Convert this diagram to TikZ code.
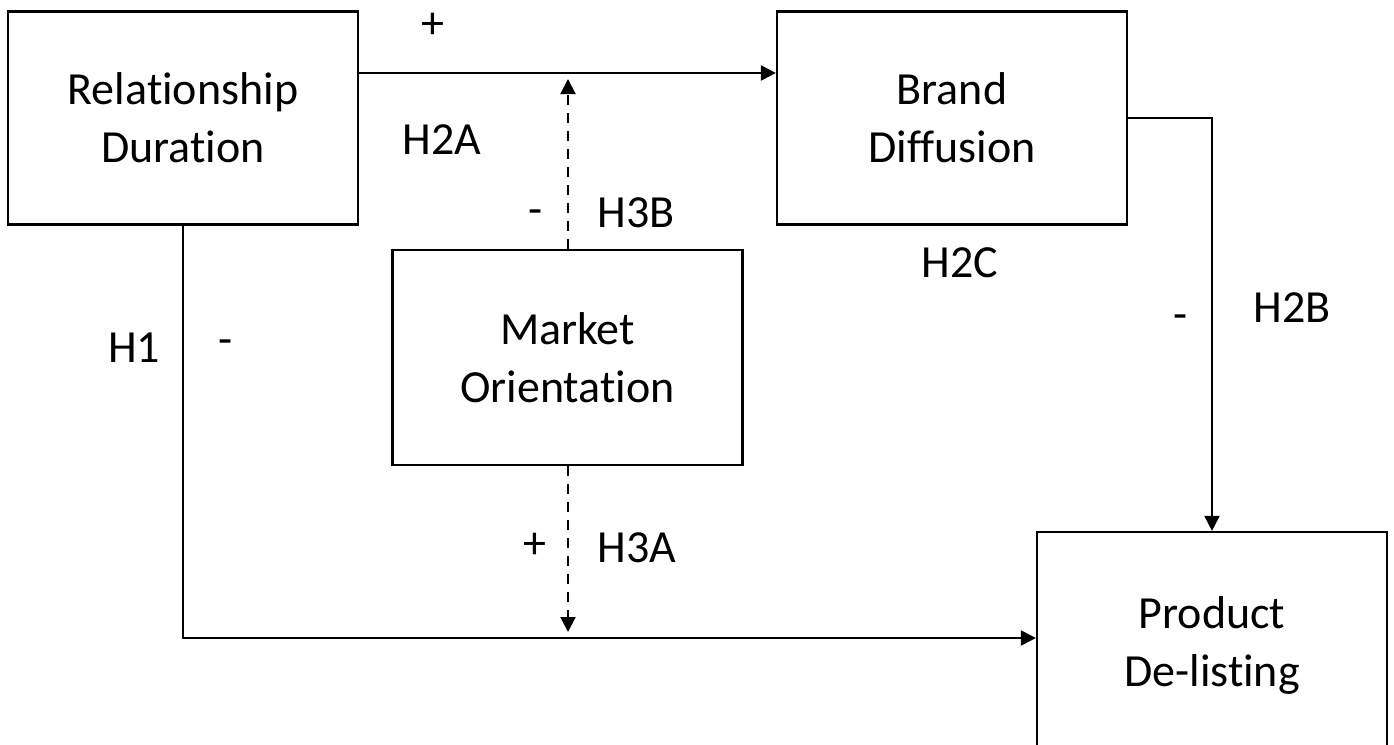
\documentclass[tikz,border=0pt]{standalone}
\usepackage{fontspec}
\setmainfont{Carlito}[Ligatures={NoCommon}]
\usetikzlibrary{arrows.meta}
\newcommand\nti{t\kern0pt i}
\begin{document}
\begin{tikzpicture}[x=1pt,y=-1pt,
  box/.style={draw,line width=2.2pt,minimum width=350pt,minimum height=213pt,align=center,inner sep=0pt,font=\fontsize{46}{58}\selectfont},
  lbl/.style={inner sep=0pt,font=\fontsize{46}{58}\selectfont},
  conn/.style={line width=2pt,-{Triangle[length=15pt,width=15pt]}},
  dconn/.style={conn,dash pattern=on 10pt off 8pt}]
\useasboundingbox (0,0) rectangle (1394,744);
\clip (0,0) rectangle (1394,744);
\node[box] (RD) at (183,118) {Rela\nti onship\\Dura\nti on};
\node[box] (BD) at (952,118) {Brand\\Diffusion};
\node[box,minimum height=215pt] (MO) at (567.5,357.5) {Market\\Orienta\nti on};
\node[box,minimum height=220pt,text depth=0pt] (PD) at (1212,642) {Product\\De-lis\nti ng};
\coordinate (t1) at (568,79);
\coordinate (t2) at (568,632);
\draw[conn] (RD.east |- 0,73) -- (BD.west |- 0,73);
\draw[conn] (RD.south) |- (PD.west |- 0,638);
\draw[conn] (BD.east |- 0,118) -| (PD.north);
\draw[dconn] (MO.north -| t1) -- (t1);
\draw[dconn] (MO.south -| t2) -- (t2);
\node[lbl] (p1) at (433,26) {+};
\node[lbl] (h2a) at (442,140) {H2A};
\node[lbl] (m3b) at (536,217) {-};
\node[lbl] (h3b) at (636,213) {H3B};
\node[lbl] (h2c) at (960,263) {H2C};
\node[lbl] (h1) at (134,348) {H1};
\node[lbl] (m1) at (226,347) {-};
\node[lbl] (m2b) at (1181,322) {-};
\node[lbl] (h2b) at (1292,308) {H2B};
\node[lbl] (p3a) at (535,546) {+};
\node[lbl] (h3a) at (637,548) {H3A};
\end{tikzpicture}
\end{document}
